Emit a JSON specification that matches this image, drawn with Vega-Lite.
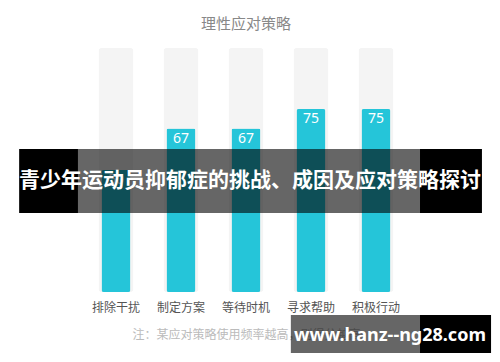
{
  "$schema": "https://vega.github.io/schema/vega-lite/v6.json",
  "autosize": "none",
  "padding": {"left": 83.5, "top": 48, "right": 91.5, "bottom": 70},
  "width": 325,
  "height": 244,
  "background": "white",
  "config": {"view": {"stroke": null}, "font": "Noto Sans CJK SC"},
  "title": {"text": "理性应对策略", "fontSize": 15, "fontWeight": "normal", "color": "#888888", "offset": 16, "anchor": "middle", "font": "Noto Sans CJK SC"},
  "datasets": {
    "bars": [
      {"strategy": "排除干扰", "value": 50, "full": 100},
      {"strategy": "制定方案", "value": 67, "full": 100},
      {"strategy": "等待时机", "value": 67, "full": 100},
      {"strategy": "寻求帮助", "value": 75, "full": 100},
      {"strategy": "积极行动", "value": 75, "full": 100}
    ],
    "dark": [
      {"x": -1.49, "x2": -0.585, "y": 32.4, "y2": 58.6},
      {"x": 4.677, "x2": 5.63, "y": 32.4, "y2": 58.6},
      {"x": 4.677, "x2": 5.77, "y": -25, "y2": -9.4}
    ],
    "shade": [
      {"x": -0.585, "x2": 4.677, "y": 32.4, "y2": 58.6},
      {"x": 2.69, "x2": 4.677, "y": -25, "y2": -9.4}
    ],
    "banner": [{"text": "青少年运动员抑郁症的挑战、成因及应对策略探讨", "x": 2.06, "y": 45.5}],
    "site": [{"text": "www.hanz--ng28.com", "x": 4.215, "y": -18}]
  },
  "layer": [
    {
      "data": {"name": "bars"},
      "encoding": {
        "x": {
          "field": "strategy", "type": "nominal", "sort": null,
          "scale": {"paddingInner": 0, "paddingOuter": 0},
          "axis": {
            "domain": false, "ticks": false, "labelAngle": 0,
            "labelFontSize": 12, "labelColor": "#555555", "labelPadding": 10,
            "labelFont": "Noto Sans CJK SC",
            "titleFontSize": 12, "titleFontWeight": "normal", "titleColor": "#bbbbbb",
            "titlePadding": 16, "titleFont": "Noto Sans CJK SC"
          },
          "title": "注：某应对策略使用频率越高，则得分越高"
        }
      },
      "layer": [
        {
          "mark": {"type": "bar", "color": "#f4f4f4", "size": 35, "cornerRadius": 3},
          "encoding": {"y": {"field": "full", "type": "quantitative", "scale": {"domain": [0, 100], "nice": false}, "axis": null}}
        },
        {
          "mark": {"type": "bar", "color": "#25c5d9", "size": 29, "cornerRadius": 2},
          "encoding": {"y": {"field": "value", "type": "quantitative", "scale": {"domain": [0, 100], "nice": false}, "axis": null}}
        },
        {
          "mark": {"type": "text", "color": "white", "fontSize": 14, "baseline": "top", "dy": 3, "font": "Noto Sans"},
          "encoding": {
            "y": {"field": "value", "type": "quantitative", "scale": {"domain": [0, 100], "nice": false}, "axis": null},
            "text": {"field": "value", "type": "quantitative"}
          }
        }
      ]
    },
    {
      "layer": [
        {
          "data": {"name": "shade"},
          "mark": {"type": "rect", "color": "black", "opacity": 0.6},
          "encoding": {
            "x": {"field": "x", "type": "quantitative", "scale": {"domain": [-0.5, 4.5], "nice": false, "zero": false}, "axis": null},
            "x2": {"field": "x2"},
            "y": {"field": "y", "type": "quantitative", "scale": {"domain": [0, 100], "nice": false}, "axis": null},
            "y2": {"field": "y2"}
          }
        },
        {
          "data": {"name": "dark"},
          "mark": {"type": "rect", "color": "black", "opacity": 1},
          "encoding": {
            "x": {"field": "x", "type": "quantitative", "axis": null},
            "x2": {"field": "x2"},
            "y": {"field": "y", "type": "quantitative", "axis": null},
            "y2": {"field": "y2"}
          }
        },
        {
          "data": {"name": "banner"},
          "mark": {"type": "text", "color": "white", "fontSize": 21, "fontWeight": "bold", "font": "Noto Sans CJK SC", "baseline": "middle", "align": "center"},
          "encoding": {
            "x": {"field": "x", "type": "quantitative", "axis": null},
            "y": {"field": "y", "type": "quantitative", "axis": null},
            "text": {"field": "text"}
          }
        },
        {
          "data": {"name": "site"},
          "mark": {"type": "text", "color": "white", "fontSize": 18, "fontWeight": "bold", "font": "Noto Sans", "baseline": "middle", "align": "center"},
          "encoding": {
            "x": {"field": "x", "type": "quantitative", "axis": null},
            "y": {"field": "y", "type": "quantitative", "axis": null},
            "text": {"field": "text"}
          }
        }
      ]
    }
  ],
  "resolve": {"scale": {"x": "independent", "y": "independent"}}
}
